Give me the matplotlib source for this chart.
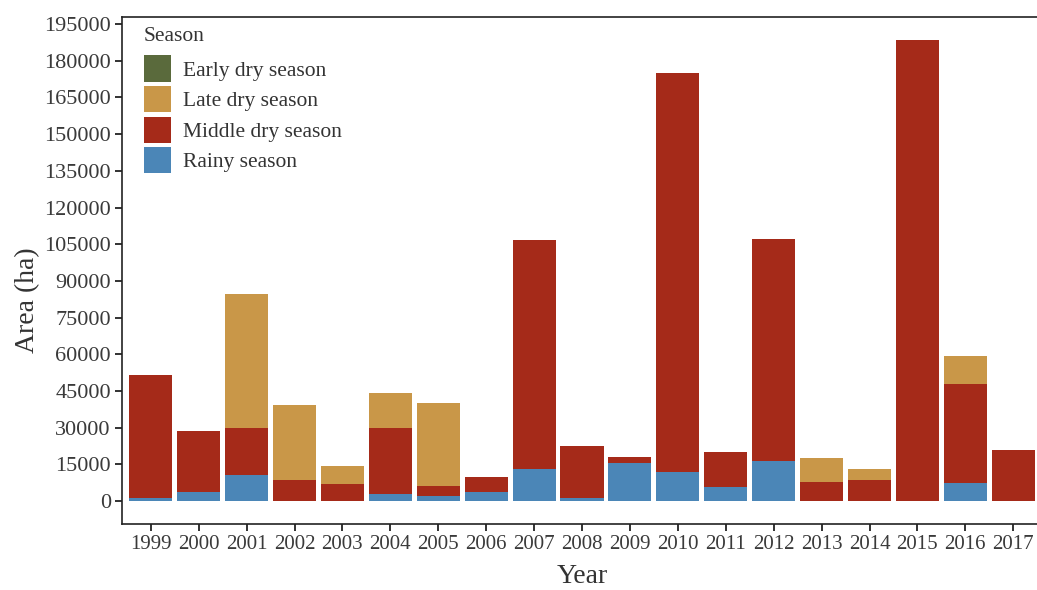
import numpy as np
import matplotlib
matplotlib.use('Agg')
import matplotlib.pyplot as plt

# burned area per season, stacked bottom -> top: rainy, middle, late, early
years = ['1999', '2000', '2001', '2002', '2003', '2004', '2005', '2006', '2007', '2008',
         '2009', '2010', '2011', '2012', '2013', '2014', '2015', '2016', '2017']
rainy = [1000, 3700, 10600, 0, 0, 2850, 2000, 3650, 13000, 1200,
         15500, 11700, 5700, 16400, 0, 0, 0, 7300, 0]
middle_dry = [50300, 24800, 19100, 8550, 6900, 26850, 4100, 6000, 93650, 21200,
              2300, 163300, 14500, 90900, 7600, 8550, 188600, 40450, 20750]
late_dry = [0, 0, 54800, 30550, 7350, 14400, 33800, 0, 0, 0,
            0, 0, 0, 0, 9900, 4600, 0, 11650, 0]
early_dry = [0] * 19
yticks = np.arange(0, 195001, 15000)

colors = {
    'Early dry season': '#5a6a3c',
    'Late dry season': '#c99748',
    'Middle dry season': '#a52a19',
    'Rainy season': '#4b86b7',
}

plt.rcParams['font.family'] = ['Liberation Serif', 'DejaVu Serif']

fig = plt.figure(figsize=(10.37, 5.90), dpi=100)
ax = fig.add_axes([122 / 1037, 1 - 524 / 590, 920 / 1037, (524 - 16.7) / 590])

x = np.arange(len(years))
r = np.array(rainy)
m = np.array(middle_dry)
l = np.array(late_dry)
e = np.array(early_dry)

b_rain = ax.bar(x, r, width=0.9, color=colors['Rainy season'], linewidth=0)
b_mid = ax.bar(x, m, width=0.9, bottom=r, color=colors['Middle dry season'], linewidth=0)
b_late = ax.bar(x, l, width=0.9, bottom=r + m, color=colors['Late dry season'], linewidth=0)
b_early = ax.bar(x, e, width=0.9, bottom=r + m + l, color=colors['Early dry season'], linewidth=0)

ymax = (r + m + l + e).max()
ax.set_ylim(-0.05 * ymax, 1.05 * ymax)
ax.set_xlim(-0.6, len(years) - 1 + 0.6)

ax.set_xticks(x)
ax.set_xticklabels(years)
ax.set_yticks(yticks)
ax.set_yticklabels([str(v) for v in yticks])
ax.tick_params(axis='both', labelcolor='#3a3a3a', color='#222222',
               length=5, width=1.3, pad=3)
ax.tick_params(axis='x', labelsize=15)
ax.tick_params(axis='y', labelsize=16)

for s in ax.spines.values():
    s.set_linewidth(1.2)
    s.set_color('#222222')

ax.set_xlabel('Year', fontsize=20, color='#333333', labelpad=7)
ax.set_ylabel('Area (ha)', fontsize=20, color='#333333')
ax.yaxis.set_label_coords(-0.089, 0.442)

leg = ax.legend([b_early, b_late, b_mid, b_rain],
                ['Early dry season', 'Late dry season', 'Middle dry season', 'Rainy season'],
                title='Season', loc='upper left', bbox_to_anchor=(0.006, 1.012),
                frameon=False, fontsize=15.5, title_fontsize=15.5,
                handlelength=1.26, handleheight=1.5, handletextpad=0.55,
                labelspacing=0.2, borderaxespad=0.35)
leg._legend_box.align = 'left'
leg._legend_box.sep = 7
for t in leg.get_texts():
    t.set_color('#333333')
leg.get_title().set_color('#333333')

fig.savefig('out.png', dpi=100)
